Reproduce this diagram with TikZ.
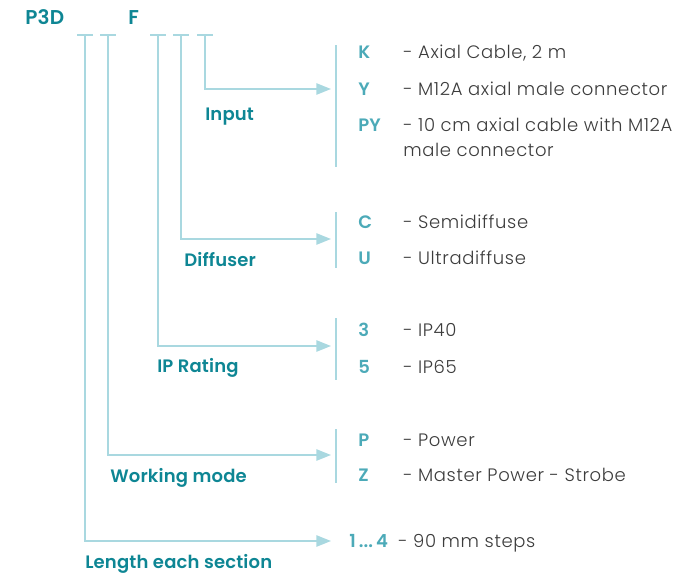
\documentclass[tikz,border=0pt]{standalone}
\usepackage{fontspec}
\setmainfont{Poppins}
\newfontfamily\labelfont[LetterSpace=1]{Poppins SemiBold}
\newfontfamily\descfont[LetterSpace=3.5]{Poppins Light}
\usetikzlibrary{arrows.meta,positioning}
\definecolor{tealdark}{HTML}{0E8694}
\definecolor{teallight}{HTML}{4CAAB8}
\definecolor{wire}{HTML}{A9D8E0}
\definecolor{bk80}{HTML}{3C3C3C}
\tikzset{
  grouplabel/.style={
    anchor=base west, inner sep=0pt, text=tealdark,
    font=\labelfont\fontsize{13.5}{15}\selectfont
  },
  codelabel/.style={
    anchor=base west, inner sep=0pt, text=teallight,
    font=\labelfont\fontsize{13.5}{15}\selectfont
  },
  desclabel/.style={
    anchor=base west, inner sep=0pt, text=bk80,
    font=\descfont\fontsize{13.5}{15}\selectfont
  },
  wireline/.style={draw=wire, line width=1.2pt},
  wirearrow/.style={
    wireline, -{Triangle[length=11pt, width=8.5pt]}
  },
}

\begin{document}
\begin{tikzpicture}[x=0.75pt, y=-0.75pt]
  \useasboundingbox (0,0) rectangle (691,578);

  % ── Product code ──
  \node[grouplabel, font=\labelfont\fontsize{15}{17}\selectfont] (code) at (25,24) {P3D};
  \node[grouplabel, font=\labelfont\fontsize{15}{17}\selectfont] (codeF) at (128,24) {F};

  % ── Position ticks ──
  \coordinate (tLen) at (85,35);
  \coordinate (tMode) at (108,35);
  \coordinate (tIP) at (158,35);
  \coordinate (tDif) at (181,35);
  \coordinate (tIn) at (205,35);
  \foreach \t in {tLen,tMode,tIP,tDif,tIn}
    \draw[wireline] (\t) ++(-8,0) -- ++(16,0);

  % ── Arrow ends and brackets ──
  \coordinate (aIn) at (331,89);
  \coordinate (aDif) at (331,239);
  \coordinate (aIP) at (331,346);
  \coordinate (aMode) at (331,455);
  \coordinate (aLen) at (331,541);
  \draw[wirearrow] (tIn) |- (aIn);
  \draw[wirearrow] (tDif) |- (aDif);
  \draw[wirearrow] (tIP) |- (aIP);
  \draw[wirearrow] (tMode) |- (aMode);
  \draw[wirearrow] (tLen) |- (aLen);

  \coordinate (bInA) at (336,45);   \coordinate (bInB) at (336,167);
  \coordinate (bDifA) at (336,212); \coordinate (bDifB) at (336,268);
  \coordinate (bIPA) at (336,318);  \coordinate (bIPB) at (336,380);
  \coordinate (bModeA) at (336,429);\coordinate (bModeB) at (336,483);
  \draw[wireline] (bInA) -- (bInB);
  \draw[wireline] (bDifA) -- (bDifB);
  \draw[wireline] (bIPA) -- (bIPB);
  \draw[wireline] (bModeA) -- (bModeB);

  % ── Group labels ──
  \node[grouplabel] (lIn) at (205,120) {Input};
  \node[grouplabel] (lDif) at (184,266) {Diffuser};
  \node[grouplabel] (lIP) at (157,372) {IP Rating};
  \node[grouplabel] (lMode) at (110,482) {Working mode};
  \node[grouplabel] (lLen) at (85,568) {Length each section};

  % ── Options ──
  \node[codelabel] (cK) at (358,58) {K};
  \node[desclabel] (dK) at (403,58) {- Axial Cable, 2 m};
  \node[codelabel] (cY) at (358,95) {Y};
  \node[desclabel] (dY) at (403,95) {- M12A axial male connector};
  \node[codelabel] (cPY) at (358,131) {PY};
  \node[desclabel] (dPY) at (403,131) {- 10 cm axial cable with M12A};
  \node[desclabel] (dPY2) at (403,156) {male connector};

  \node[codelabel] (cC) at (358,228) {C};
  \node[desclabel] (dC) at (403,228) {- Semidiffuse};
  \node[codelabel] (cU) at (358,264) {U};
  \node[desclabel] (dU) at (403,264) {- Ultradiffuse};

  \node[codelabel] (c3) at (358,336) {3};
  \node[desclabel] (d3) at (403,336) {- IP40};
  \node[codelabel] (c5) at (358,373) {5};
  \node[desclabel] (d5) at (403,373) {- IP65};

  \node[codelabel] (cP) at (358,446) {P};
  \node[desclabel] (dP) at (403,446) {- Power};
  \node[codelabel] (cZ) at (358,481) {Z};
  \node[desclabel] (dZ) at (403,481) {- Master Power - Strobe};

  \node[codelabel] (c14) at (349,547) {1\,...\,4};
  \node[desclabel] (d14) at (398,547) {- 90 mm steps};
\end{tikzpicture}
\end{document}
